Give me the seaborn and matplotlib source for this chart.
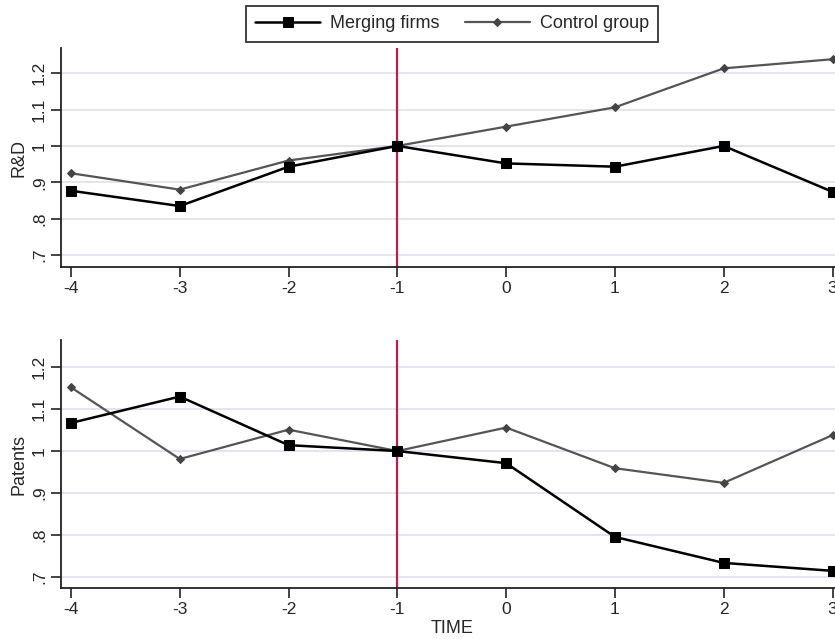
import pandas as pd
import numpy as np
import seaborn as sns
import matplotlib
matplotlib.use("Agg")
import matplotlib.pyplot as plt

time = [-4, -3, -2, -1, 0, 1, 2, 3]

rd_merging = [0.877, 0.835, 0.943, 1.000, 0.952, 0.943, 1.000, 0.874]
rd_control = [0.925, 0.880, 0.960, 1.000, 1.053, 1.106, 1.213, 1.238]

pat_merging = [1.067, 1.130, 1.014, 1.000, 0.971, 0.795, 0.733, 0.714]
pat_control = [1.152, 0.981, 1.051, 1.000, 1.056, 0.959, 0.924, 1.038]

yticks = [0.7, 0.8, 0.9, 1.0, 1.1, 1.2]
ytick_labels = [".7", ".8", ".9", "1", "1.1", "1.2"]

sns.set_style("white")
plt.rcParams["font.family"] = ["Liberation Sans", "DejaVu Sans"]

fig = plt.figure(figsize=(8.35, 6.39), dpi=100)
ax1 = fig.add_axes([0.073, 0.5826, 0.936, 0.3418])
ax2 = fig.add_axes([0.073, 0.0793, 0.936, 0.3886])

panels = [(ax1, rd_merging, rd_control, "R&D", (0.6684, 1.268)),
          (ax2, pat_merging, pat_control, "Patents", (0.6723, 1.265))]

for ax, merg, ctrl, ylab, ylim in panels:
    for y in yticks:
        ax.axhline(y, color="#e2e2f0", lw=1.3, zorder=0)
    ax.axvline(-1, color="#c8174a", lw=1.6, zorder=1)
    sns.lineplot(x=time, y=ctrl, ax=ax, color="#555555", lw=1.6,
                 marker="D", markersize=4.5, markerfacecolor="#444444",
                 markeredgecolor="#444444", label="Control group", zorder=2)
    sns.lineplot(x=time, y=merg, ax=ax, color="black", lw=1.8,
                 marker="s", markersize=7, markerfacecolor="black",
                 markeredgecolor="black", label="Merging firms", zorder=3)
    ax.set_xlim(-4.092, 3.092)
    ax.set_ylim(*ylim)
    ax.set_xticks(time)
    ax.set_xticklabels([str(t) for t in time], fontsize=12.5)
    ax.set_yticks(yticks)
    ax.set_yticklabels(ytick_labels, fontsize=12.5, rotation=90, va="center")
    ax.set_ylabel(ylab, fontsize=13, labelpad=3)
    ax.tick_params(direction="out", length=7, width=1.2, color="#222222",
                   bottom=True, left=True, pad=3)
    for side in ["top", "right"]:
        ax.spines[side].set_visible(False)
    for side in ["left", "bottom"]:
        ax.spines[side].set_color("#222222")
        ax.spines[side].set_linewidth(1.3)
    ax.get_legend().remove()

ax2.set_xlabel("TIME", fontsize=13, labelpad=2)

handles, labels = ax1.get_legend_handles_labels()
leg = fig.legend(handles[::-1], labels[::-1], loc="center", ncol=2,
                 bbox_to_anchor=(452 / 835, 1 - 24 / 639), fontsize=13,
                 frameon=True, fancybox=False, edgecolor="black",
                 handlelength=3.6, handletextpad=0.55, columnspacing=1.4,
                 borderpad=0.5)
leg.get_frame().set_linewidth(1.3)

fig.savefig("out.png", dpi=100)
